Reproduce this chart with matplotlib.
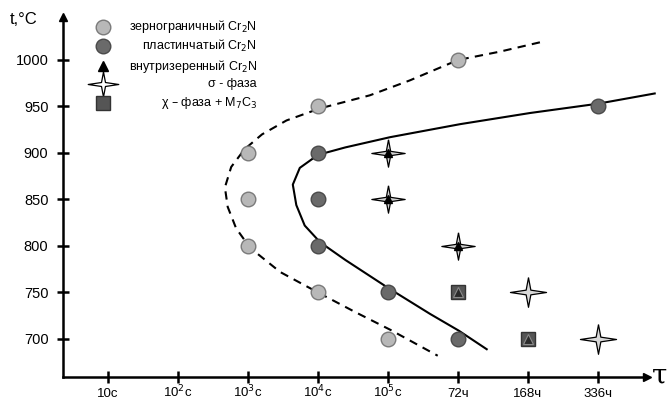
import matplotlib.pyplot as plt

plt.rcParams['font.family'] = ['Liberation Sans', 'DejaVu Sans']

# time scale positions (1..8) and labels
time_pos = [1, 2, 3, 4, 5, 6, 7, 8]
time_labels = ['10с', '10$^2$с', '10$^3$с', '10$^4$с', '10$^5$с', '72ч', '168ч', '336ч']
temp_ticks = [700, 750, 800, 850, 900, 950, 1000]

# grain boundary Cr2N
gb_t = [3, 3, 3, 4, 4, 5, 6]
gb_T = [900, 850, 800, 950, 750, 700, 1000]
# lamellar Cr2N
lam_t = [4, 4, 4, 5, 6, 8]
lam_T = [900, 850, 800, 750, 700, 950]
# sigma phase with intragranular Cr2N
sig_tri_t = [5, 5, 6]
sig_tri_T = [900, 850, 800]
# sigma phase only
sig_t = [7, 8]
sig_T = [750, 700]
# chi phase + M7C3
chi_t = [6, 7]
chi_T = [750, 700]

# boundary curves
dash_t = [7.17, 6.6, 6.0, 5.31, 4.74, 4.03, 3.55, 3.2, 2.95, 2.76, 2.67, 2.71,
          2.83, 3.03, 3.46, 4.0, 4.53, 5.03, 5.71]
dash_T = [1019, 1009, 1000, 978, 962, 948, 935, 920, 904, 885, 863, 842,
          819, 798, 772, 750, 729, 710, 682]
solid_t = [8.81, 8.0, 7.03, 6.03, 5.03, 4.39, 4.0, 3.74, 3.64, 3.69, 3.81, 4.03,
           4.39, 5.0, 5.6, 6.01, 6.41]
solid_T = [964, 953, 943, 931, 917, 906, 898, 884, 866, 844, 822, 804,
           785, 755, 727, 709, 689]

star = [(0, 0.82), (0.13, 0.13), (1, 0), (0.13, -0.13), (0, -0.82),
        (-0.13, -0.13), (-1, 0), (-0.13, 0.13), (0, 0.82)]

fig = plt.figure(figsize=(6.72, 4), dpi=100)
ax = fig.add_axes([0, 0, 1, 1])
ax.set_xlim(-0.543, 9.057)
ax.set_ylim(634.4, 1064.5)

x0, y0 = 0.357, 659
ax.spines[['top', 'right']].set_visible(False)
ax.spines['left'].set_position(('data', x0))
ax.spines['bottom'].set_position(('data', y0))
ax.spines['left'].set_bounds(y0, 1046)
ax.spines['bottom'].set_bounds(x0, 8.7)
ax.spines['left'].set_linewidth(1.8)
ax.spines['bottom'].set_linewidth(1.8)
ax.plot(x0, 1046, marker='^', color='black', ms=6, clip_on=False)
ax.plot(8.7, y0, marker='>', color='black', ms=6, clip_on=False)

ax.set_xticks(time_pos)
ax.set_xticklabels(time_labels, fontsize=9.5)
for lab in ax.get_xticklabels():
    lab.set_verticalalignment('baseline')
ax.set_yticks(temp_ticks)
ax.set_yticklabels([str(v) for v in temp_ticks], fontsize=10.5)
ax.tick_params(direction='inout', length=9, width=1.8)
ax.tick_params(axis='x', pad=10)
ax.tick_params(axis='y', pad=6)

ax.plot(dash_t, dash_T, color='black', lw=1.5, ls=(0, (4, 3)))
ax.plot(solid_t, solid_T, color='black', lw=1.5)

ax.plot(gb_t, gb_T, 'o', ms=10.5, mfc='#b8b8b8', mec='#7a7a7a', mew=1)
ax.plot(lam_t, lam_T, 'o', ms=10.5, mfc='#6a6a6a', mec='#4a4a4a', mew=1)
ax.plot(sig_tri_t, sig_tri_T, ls='none', marker=star, ms=24, mfc='#d2d2d2', mec='black', mew=0.9)
ax.plot(sig_tri_t, sig_tri_T, '^', ms=6, color='black')
ax.plot(sig_t, sig_T, ls='none', marker=star, ms=26, mfc='#d8d8d8', mec='black', mew=0.9)
ax.plot(chi_t, chi_T, 's', ms=10, mfc='#555555', mec='#333333', mew=1)
ax.plot(chi_t, chi_T, '^', ms=6.5, mfc='#2a2a2a', mec='#8a8a8a', mew=0.8)

# legend drawn by hand: symbol on the left, right-aligned text
leg_y = [1035.5, 1015, 993.5, 974, 954]
lx = 0.93
ax.plot(lx, leg_y[0], 'o', ms=10.5, mfc='#b8b8b8', mec='#7a7a7a')
ax.plot(lx, leg_y[1], 'o', ms=10.5, mfc='#6a6a6a', mec='#4a4a4a')
ax.plot(lx, leg_y[2], '^', ms=6.5, color='black')
ax.plot(lx, leg_y[3], ls='none', marker=star, ms=22, mfc='white', mec='black', mew=0.9)
ax.plot(lx, leg_y[4], 's', ms=10, mfc='#555555', mec='#333333')
leg_txt = ['зернограничный Cr$_2$N', 'пластинчатый Cr$_2$N', 'внутризеренный Cr$_2$N',
           'σ - фаза', 'χ – фаза + M$_7$C$_3$']
for y, s in zip(leg_y, leg_txt):
    ax.text(3.13, y, s, ha='right', va='center', fontsize=9)

ax.text(-0.4, 1044, 't,°C', fontsize=12, ha='left', va='center')
ax.text(8.77, 660, 'τ', fontsize=20, family='DejaVu Serif', ha='left', va='center')

fig.savefig('out.png', dpi=100)
